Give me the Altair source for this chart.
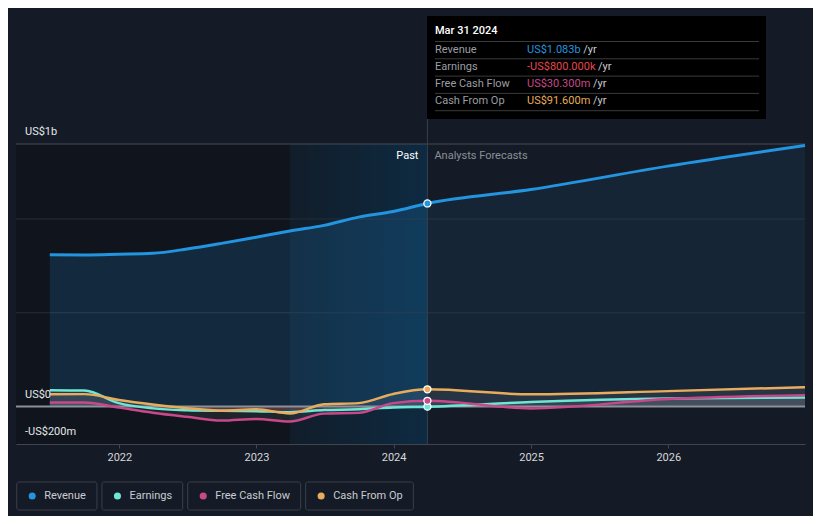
import altair as alt
import pandas as pd

# ---------------- data ----------------
past_dates = ["2021-06-30", "2021-09-30", "2021-12-31", "2022-03-31", "2022-06-30", "2022-09-30",
              "2022-12-31", "2023-03-31", "2023-06-30", "2023-09-30", "2023-12-31", "2024-03-31"]
forecast_dates = ["2024-03-31", "2024-12-31", "2025-12-31", "2026-12-31"]

series_names = ["Revenue", "Earnings", "Free Cash Flow", "Cash From Op"]
series_colors = ["#2394df", "#6ee6d6", "#c8488a", "#e8ad5c"]

# values in US$ millions
revenue_past = [809, 808, 812, 817, 840, 870, 903, 936, 966, 1010, 1040, 1083]
revenue_forecast = [1083, 1157, 1282, 1392]
earnings_past = [87, 85, 18, -10, -20, -23, -25, -30, -19, -15, -5, -0.8]
earnings_forecast = [-0.8, 24, 43, 48]
fcf_past = [21, 21, -6, -33, -55, -75, -66, -80, -38, -34, 18, 30.3]
fcf_forecast = [30.3, -10, 40, 60]
cfo_past = [65, 66, 35, 11, -9, -22, -15, -37, 12, 18, 67, 91.6]
cfo_forecast = [91.6, 65, 82, 103]

y_label_anchors = [1400, 0, -200]          # US$ millions
y_label_texts = ["US$1b", "US$0", "-US$200m"]
grid_values = [500, 1000]
top_value = 1400
year_ticks = [2022, 2023, 2024, 2025, 2026]

past_start = "2021-04-01"
highlight_start = "2023-03-31"
current_date = "2024-03-31"

tooltip_title = "Mar 31 2024"
tooltip_values = ["US$1.083b", "-US$800.000k", "US$30.300m", "US$91.600m"]
tooltip_value_colors = ["#2394df", "#e5484d", "#c8488a", "#e8ad5c"]

# ---------------- helpers ----------------
BG = "#151b26"
FONT = "Roboto"
_W = {' ': 507, '$': 1150, '-': 553, '.': 539, '/': 843,
      'A': 1336, 'C': 1333, 'E': 1164, 'F': 1132, 'M': 1747, 'O': 1410, 'P': 1292,
      'R': 1260, 'S': 1188, 'U': 1294,
      'a': 1088, 'b': 1122, 'c': 1046, 'e': 1083, 'g': 1120, 'h': 1102, 'i': 486,
      'k': 1015, 'l': 486, 'm': 1795, 'n': 1129, 'o': 1140, 'p': 1120, 'r': 692,
      's': 1058, 't': 653, 'u': 1127, 'v': 1011, 'w': 1513, 'y': 970}


def tw(s, size=11):
    return sum(_W.get(c, 1150 if c.isdigit() else 1100) for c in s) / 2048 * size


def ts(d):
    return d + "T00:00:00"


X_SCALE = alt.Scale(domain=[alt.DateTime(year=2021, month=4, date=1),
                            alt.DateTime(year=2026, month=12, date=31)])
X_AXIS = alt.Axis(values=[alt.DateTime(year=y, month=1, date=1) for y in year_ticks],
                  format="%Y", title=None, grid=False, domainColor="#40454e",
                  tickColor="#40454e", tickSize=4, labelColor="#d5d7da",
                  labelFontSize=11, labelPadding=3, labelFont=FONT, domainWidth=1)
Y_SCALE = alt.Scale(domain=[-200e6, 1400e6], nice=False, zero=False)


def X(f):
    return alt.X(f, type="temporal", scale=X_SCALE, axis=X_AXIS)


def Y(f):
    return alt.Y(f, type="quantitative", scale=Y_SCALE, axis=None)


def series_df(dates, vals):
    return pd.DataFrame({"date": [ts(d) for d in dates], "value": [v * 1e6 for v in vals]})


def text_layer(s, px, py, color, size=11, align="left", weight="normal"):
    return alt.Chart(pd.DataFrame({"t": [s]})).mark_text(
        font=FONT, fontSize=size, color=color, align=align, baseline="middle",
        fontWeight=weight).encode(x=alt.value(px), y=alt.value(py), text="t:N")


one = pd.DataFrame({"k": [0]})
layers = []

# background regions
layers.append(alt.Chart(pd.DataFrame({"s": [ts(past_start)], "e": [ts(current_date)]}))
              .mark_rect(color="#10151d")
              .encode(x=X("s"), x2="e", y=alt.value(0), y2=alt.value(300)))
grad = alt.Gradient(gradient="linear", x1=0, x2=1, y1=0, y2=0,
                    stops=[alt.GradientStop(color="#111d2a", offset=0),
                           alt.GradientStop(color="#0e2a41", offset=1)])
layers.append(alt.Chart(pd.DataFrame({"s": [ts(highlight_start)], "e": [ts(current_date)]}))
              .mark_rect(fill=grad)
              .encode(x=X("s"), x2="e", y=alt.value(0), y2=alt.value(300)))

# grid lines
layers.append(alt.Chart(pd.DataFrame({"v": [g * 1e6 for g in grid_values]}))
              .mark_rule(color="#272d38", strokeWidth=1).encode(y=Y("v")))
layers.append(alt.Chart(pd.DataFrame({"v": [top_value * 1e6]}))
              .mark_rule(color="#464b54", strokeWidth=1).encode(y=Y("v")))

# revenue areas
rev_p = series_df(past_dates, revenue_past)
rev_f = series_df(forecast_dates, revenue_forecast)
layers.append(alt.Chart(rev_p).mark_area(color="#2394df", opacity=0.17, interpolate="monotone")
              .encode(x=X("date"), y=Y("value"), y2=alt.datum(0)))
layers.append(alt.Chart(rev_f).mark_area(color="#2394df", opacity=0.09, interpolate="monotone")
              .encode(x=X("date"), y=Y("value"), y2=alt.datum(0)))

# small series
earn = series_df(past_dates + forecast_dates[1:], earnings_past + earnings_forecast[1:])
fcf = series_df(past_dates + forecast_dates[1:], fcf_past + fcf_forecast[1:])
cfo = series_df(past_dates + forecast_dates[1:], cfo_past + cfo_forecast[1:])
rev = series_df(past_dates + forecast_dates[1:], revenue_past + revenue_forecast[1:])

for d in (cfo, fcf):
    layers.append(alt.Chart(d).mark_area(color="#ffffff", opacity=0.07, interpolate="monotone")
                  .encode(x=X("date"), y=Y("value"), y2=alt.datum(0)))
layers.append(alt.Chart(earn).transform_calculate(p="max(datum.value, 0)")
              .mark_area(color="#ffffff", opacity=0.07, interpolate="monotone")
              .encode(x=X("date"), y=Y("p:Q"), y2=alt.datum(0)))
layers.append(alt.Chart(earn).transform_calculate(n="min(datum.value, 0)")
              .mark_area(color="#e5484d", opacity=0.2, interpolate="monotone")
              .encode(x=X("date"), y=Y("n:Q"), y2=alt.datum(0)))

# zero line
layers.append(alt.Chart(pd.DataFrame({"v": [0]}))
              .mark_rule(color="#8d9097", strokeWidth=2).encode(y=Y("v")))

# lines
for d, col, w in ((rev, series_colors[0], 3), (earn, series_colors[1], 2.5),
                  (fcf, series_colors[2], 2.5), (cfo, series_colors[3], 2.5)):
    layers.append(alt.Chart(d).mark_line(color=col, strokeWidth=w, interpolate="monotone")
                  .encode(x=X("date"), y=Y("value")))

# crosshair
cur_df = pd.DataFrame({"date": [ts(current_date)]})
layers.append(alt.Chart(cur_df).mark_rule(color="#34404f", strokeWidth=1)
              .encode(x=X("date"), y=alt.value(-25), y2=alt.value(300)))

# current points
cur_vals = [revenue_past[-1], earnings_past[-1], fcf_past[-1], cfo_past[-1]]
for v, col in zip(cur_vals, series_colors):
    layers.append(alt.Chart(pd.DataFrame({"date": [ts(current_date)], "value": [v * 1e6]}))
                  .mark_circle(size=50, fill=col, stroke="#ffffff", strokeWidth=1.3, opacity=1)
                  .encode(x=X("date"), y=Y("value")))

# y labels
layers.append(alt.Chart(pd.DataFrame({"v": [a * 1e6 for a in y_label_anchors], "t": y_label_texts}))
              .mark_text(font=FONT, fontSize=11, color="#e6e7e9", align="left", baseline="middle", dy=-12)
              .encode(x=alt.value(9), y=Y("v"), text="t:N"))

# Past / Analysts Forecasts
layers.append(alt.Chart(pd.DataFrame({"date": [ts(current_date)], "t": ["Past"]}))
              .mark_text(font=FONT, fontSize=11, color="#ffffff", align="right", baseline="middle", dx=-9)
              .encode(x=X("date"), y=alt.value(12), text="t:N"))
layers.append(alt.Chart(pd.DataFrame({"date": [ts(current_date)], "t": ["Analysts Forecasts"]}))
              .mark_text(font=FONT, fontSize=11, color="#8b9097", align="left", baseline="middle", dx=7)
              .encode(x=X("date"), y=alt.value(12), text="t:N"))

# tooltip box
layers.append(alt.Chart(one).mark_rect(fill="#000000")
              .encode(x=alt.value(411), x2=alt.value(750), y=alt.value(-128), y2=alt.value(-25)))
layers.append(text_layer(tooltip_title, 419, -113, "#ffffff", weight=500))
for i in range(5):
    py = -102.5 + i * 17.3
    layers.append(alt.Chart(one).mark_rule(color="#3a3a3c", strokeWidth=1)
                  .encode(x=alt.value(419), x2=alt.value(743), y=alt.value(py)))
for i, (lab, val, vc) in enumerate(zip(series_names, tooltip_values, tooltip_value_colors)):
    py = -94.5 + i * 17.2
    layers.append(text_layer(lab, 419, py, "#9a9ea4"))
    layers.append(text_layer(val, 511, py, vc))
    layers.append(text_layer("/yr", 511 + tw(val) + 3, py, "#c9ccd0"))

# legend
cur = 0.7
for name, col in zip(series_names, series_colors):
    right = cur + 27.5 + tw(name) + 11
    layers.append(alt.Chart(one).mark_rect(fill=BG, stroke="#3a3f49", strokeWidth=1, cornerRadius=2)
                  .encode(x=alt.value(cur), x2=alt.value(right), y=alt.value(338), y2=alt.value(366)))
    layers.append(alt.Chart(one).mark_circle(size=50, color=col, opacity=1)
                  .encode(x=alt.value(cur + 15.5), y=alt.value(352)))
    layers.append(text_layer(name, cur + 27.5, 352, "#c9ccd1"))
    cur = right + 5

chart = alt.layer(*layers).properties(
    width=789, height=300,
    autosize=alt.AutoSizeParams(type="none"),
    padding={"left": 8, "top": 136, "right": 8, "bottom": 72},
).configure(background=BG, font=FONT).configure_view(stroke=None)

chart.save("out.html", embed_options={"renderer": "svg", "actions": False})
